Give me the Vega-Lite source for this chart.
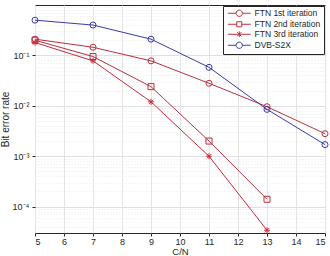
{
  "$schema": "https://vega.github.io/schema/vega-lite/v6.json",
  "width": 290,
  "height": 228,
  "autosize": "none",
  "padding": {"left": 35, "top": 5, "right": 5, "bottom": 23},
  "background": "white",
  "config": {
    "font": "Liberation Sans",
    "view": {"stroke": "#262626", "strokeWidth": 1},
    "axis": {"labelColor": "#262626", "titleColor": "#262626", "labelFontSize": 9, "titleFontSize": 10, "titleFontWeight": "normal", "domainColor": "#262626", "tickColor": "#262626"}
  },
  "data": {
    "values": [
      {"series": "FTN 1st iteration", "cn": 5, "ber": 0.21},
      {"series": "FTN 1st iteration", "cn": 7, "ber": 0.145},
      {"series": "FTN 1st iteration", "cn": 9, "ber": 0.078},
      {"series": "FTN 1st iteration", "cn": 11, "ber": 0.028},
      {"series": "FTN 1st iteration", "cn": 13, "ber": 0.0096},
      {"series": "FTN 1st iteration", "cn": 15, "ber": 0.0028},
      {"series": "FTN 2nd iteration", "cn": 5, "ber": 0.2},
      {"series": "FTN 2nd iteration", "cn": 7, "ber": 0.095},
      {"series": "FTN 2nd iteration", "cn": 9, "ber": 0.024},
      {"series": "FTN 2nd iteration", "cn": 11, "ber": 0.002},
      {"series": "FTN 2nd iteration", "cn": 13, "ber": 0.00014},
      {"series": "FTN 3rd iteration", "cn": 5, "ber": 0.18},
      {"series": "FTN 3rd iteration", "cn": 7, "ber": 0.078},
      {"series": "FTN 3rd iteration", "cn": 9, "ber": 0.012},
      {"series": "FTN 3rd iteration", "cn": 11, "ber": 0.001},
      {"series": "FTN 3rd iteration", "cn": 13, "ber": 0.000034},
      {"series": "DVB-S2X", "cn": 5, "ber": 0.5},
      {"series": "DVB-S2X", "cn": 7, "ber": 0.4},
      {"series": "DVB-S2X", "cn": 9, "ber": 0.21},
      {"series": "DVB-S2X", "cn": 11, "ber": 0.058},
      {"series": "DVB-S2X", "cn": 13, "ber": 0.0085},
      {"series": "DVB-S2X", "cn": 15, "ber": 0.0017}
    ]
  },
  "encoding": {
    "x": {
      "field": "cn", "type": "quantitative", "title": "C/N",
      "scale": {"domain": [5, 15], "nice": false},
      "axis": {"values": [5, 6, 7, 8, 9, 10, 11, 12, 13, 14, 15], "gridColor": "#e3e3e3", "tickSize": 3, "labelPadding": 1, "titlePadding": 0, "titleFontSize": 9.5, "domain": false}
    },
    "y": {
      "field": "ber", "type": "quantitative", "title": "Bit error rate",
      "scale": {"type": "log", "domain": [0.00003, 1], "nice": false},
      "axis": {
        "values": [0.00004, 0.00005, 0.00006, 0.00007, 0.00008, 0.00009, 0.0001, 0.0002, 0.0003, 0.0004, 0.0005, 0.0006, 0.0007, 0.0008, 0.0009, 0.001, 0.002, 0.003, 0.004, 0.005, 0.006, 0.007, 0.008, 0.009, 0.01, 0.02, 0.03, 0.04, 0.05, 0.06, 0.07, 0.08, 0.09, 0.1, 0.2, 0.3, 0.4, 0.5, 0.6, 0.7, 0.8, 0.9],
        "labelExpr": "datum.value == 0.1 ? '10⁻¹' : datum.value == 0.01 ? '10⁻²' : datum.value == 0.001 ? '10⁻³' : datum.value == 0.0001 ? '10⁻⁴' : ''",
        "gridColor": {"condition": {"test": "indexof([0.0001, 0.001, 0.01, 0.1, 1], datum.value) >= 0", "value": "#e0e0e0"}, "value": "#ececec"},
        "gridDash": {"condition": {"test": "indexof([0.0001, 0.001, 0.01, 0.1, 1], datum.value) >= 0", "value": []}, "value": [1, 2]},
        "tickSize": {"condition": {"test": "indexof([0.0001, 0.001, 0.01, 0.1, 1], datum.value) >= 0", "value": 3}, "value": 0},
        "labelPadding": 3, "titlePadding": 2, "domain": false
      }
    }
  },
  "resolve": {"scale": {"shape": "independent"}},
  "layer": [
    {
      "mark": {"type": "line", "strokeWidth": 1},
      "encoding": {
        "color": {"field": "series", "type": "nominal", "legend": null,
          "scale": {"domain": ["FTN 1st iteration", "FTN 2nd iteration", "FTN 3rd iteration", "DVB-S2X"], "range": ["#b8303f", "#b8303f", "#cc2a3a", "#3a3aa8"]}},
        "detail": {"field": "series"}
      }
    },
    {
      "mark": {"type": "point", "filled": false, "size": 36, "strokeWidth": 1, "opacity": 1},
      "encoding": {
        "color": {"field": "series", "type": "nominal", "legend": null},
        "shape": {"field": "series", "type": "nominal", "legend": null,
          "scale": {"domain": ["FTN 1st iteration", "FTN 2nd iteration", "FTN 3rd iteration", "DVB-S2X"], "range": ["circle", "square", "M-1,0H1M0,-1V1M-0.7,-0.7L0.7,0.7M-0.7,0.7L0.7,-0.7", "circle"]}}
      }
    },
    {
      "mark": {"type": "point", "filled": false, "size": 40, "strokeWidth": 1, "opacity": 0},
      "encoding": {
        "color": {"field": "series", "type": "nominal", "legend": null},
        "shape": {"field": "series", "type": "nominal",
          "scale": {"domain": ["FTN 1st iteration", "FTN 2nd iteration", "FTN 3rd iteration", "DVB-S2X"], "range": [
            "M-3.6,0H-1M1,0H3.6M-1,0A1,1 0 1,1 1,0A1,1 0 1,1 -1,0",
            "M-3.6,0H-0.8M0.8,0H3.6M-0.8,-0.8H0.8V0.8H-0.8Z",
            "M-3.6,0H3.6M0,-0.9V0.9M-0.65,-0.65L0.65,0.65M-0.65,0.65L0.65,-0.65",
            "M-3.6,0H-1M1,0H3.6M-1,0A1,1 0 1,1 1,0A1,1 0 1,1 -1,0"
          ]},
          "legend": {
            "title": null, "orient": "top-right", "offset": 1,
            "symbolOpacity": 1, "symbolSize": 40, "symbolStrokeWidth": 1, "symbolFillColor": "transparent",
            "symbolOffset": 9, "labelOffset": 11,
            "labelFontSize": 8.5, "labelColor": "#262626", "labelLimit": 200,
            "fillColor": "white", "strokeColor": "#262626", "padding": 3, "rowPadding": 0,
            "symbolStrokeColor": {"expr": "datum.label == 'DVB-S2X' ? '#3a3aa8' : '#b8303f'"}
          }
        }
      }
    }
  ]
}
